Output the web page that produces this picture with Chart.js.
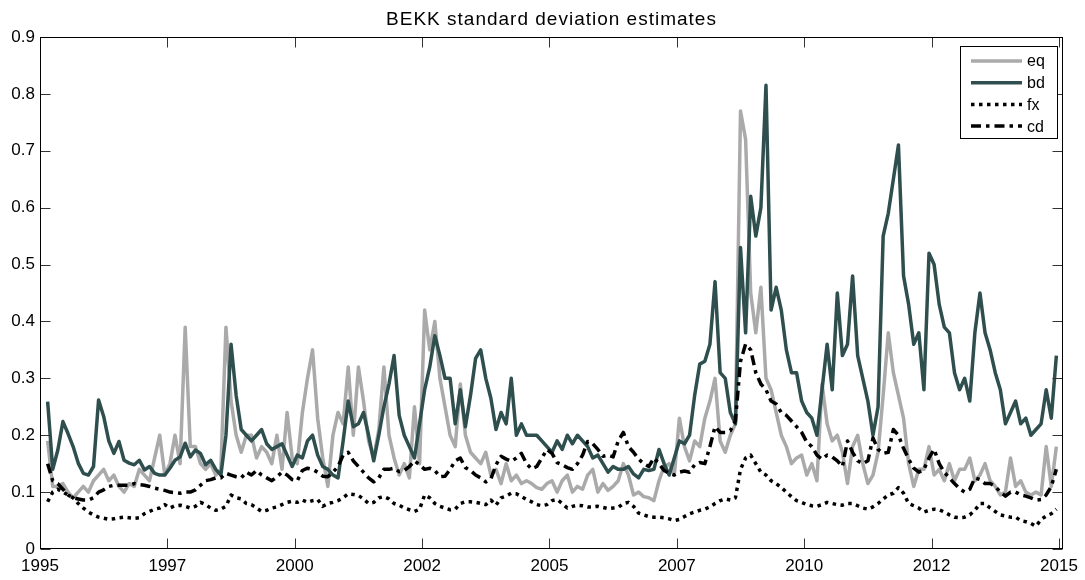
<!DOCTYPE html>
<html>
<head>
<meta charset="utf-8">
<title>BEKK standard deviation estimates</title>
<script src="https://cdn.jsdelivr.net/npm/chart.js@4.4.1/dist/chart.umd.min.js"></script>
<style>
  html, body { margin: 0; padding: 0; background: #fff; }
  canvas { display: block; }
</style>
</head>
<body>
<canvas id="chart" width="1085" height="580"></canvas>
<script>
const titleText = "BEKK standard deviation estimates";

// x ticks sit every 2.5 years, labelled with the year only
const xTickValues = [1995, 1997.5, 2000, 2002.5, 2005, 2007.5, 2010, 2012.5, 2015];
const xTickLabels = ["1995", "1997", "2000", "2002", "2005", "2007", "2010", "2012", "2015"];
const yTickValues = [0, 0.1, 0.2, 0.3, 0.4, 0.5, 0.6, 0.7, 0.8, 0.9];

// one sample every 0.1 year, first at 1995.15 (one row per year)
const eqValues = [
  0.19, 0.11, 0.11, 0.115, 0.1, 0.09, 0.1, 0.11, 0.1, 0.12,
  0.13, 0.14, 0.12, 0.13, 0.11, 0.1, 0.115, 0.11, 0.14, 0.13,
  0.12, 0.16, 0.2, 0.13, 0.15, 0.2, 0.15, 0.39, 0.18, 0.18,
  0.15, 0.14, 0.15, 0.13, 0.14, 0.39, 0.26, 0.2, 0.17, 0.2,
  0.2, 0.16, 0.18, 0.17, 0.15, 0.2, 0.14, 0.24, 0.16, 0.15,
  0.24, 0.3, 0.35, 0.23, 0.16, 0.11, 0.2, 0.24, 0.22, 0.32,
  0.2, 0.32, 0.26, 0.19, 0.16, 0.21, 0.32, 0.2, 0.16, 0.13,
  0.15, 0.125, 0.25, 0.15, 0.42, 0.35, 0.4, 0.3, 0.25, 0.2,
  0.18, 0.29, 0.2, 0.17, 0.16, 0.15, 0.17, 0.13, 0.14, 0.115,
  0.15, 0.12, 0.13, 0.115, 0.12, 0.115, 0.108, 0.105, 0.115, 0.12,
  0.1, 0.12, 0.13, 0.1, 0.11, 0.105, 0.13, 0.14, 0.1, 0.115,
  0.103, 0.11, 0.12, 0.15, 0.13, 0.095, 0.1, 0.092, 0.09, 0.085,
  0.12, 0.145, 0.15, 0.13, 0.23, 0.18, 0.155, 0.19, 0.18, 0.23,
  0.26, 0.3, 0.19, 0.17, 0.2, 0.22, 0.77, 0.72, 0.45, 0.38,
  0.46, 0.3, 0.28, 0.24, 0.2, 0.18, 0.15, 0.16, 0.165, 0.13,
  0.15, 0.12, 0.29, 0.22, 0.19, 0.2, 0.17, 0.115, 0.18, 0.2,
  0.15, 0.115, 0.13, 0.17, 0.27, 0.38, 0.31, 0.27, 0.23, 0.15,
  0.11, 0.14, 0.14, 0.18, 0.13, 0.14, 0.12, 0.15, 0.12, 0.14,
  0.14, 0.16, 0.12, 0.13, 0.15, 0.12, 0.11, 0.095, 0.1, 0.16,
  0.11, 0.12, 0.1, 0.095, 0.1, 0.095, 0.18, 0.11, 0.18,
];

const bdValues = [
  0.259, 0.14, 0.174, 0.224, 0.203, 0.18, 0.151, 0.133, 0.13, 0.145,
  0.262, 0.233, 0.19, 0.168, 0.189, 0.156, 0.151, 0.148, 0.156, 0.139,
  0.145, 0.133, 0.13, 0.13, 0.142, 0.156, 0.162, 0.186, 0.162, 0.174,
  0.168, 0.148, 0.156, 0.14, 0.13, 0.2, 0.36, 0.27, 0.21, 0.2,
  0.19, 0.2, 0.21, 0.185, 0.175, 0.18, 0.185, 0.165, 0.145, 0.165,
  0.16, 0.19, 0.2, 0.165, 0.145, 0.14, 0.13, 0.125, 0.19, 0.26,
  0.215, 0.22, 0.24, 0.2, 0.155, 0.2, 0.25, 0.29, 0.34, 0.235,
  0.2, 0.18, 0.16, 0.22, 0.28, 0.32, 0.375, 0.34, 0.3, 0.3,
  0.22, 0.28, 0.215, 0.27, 0.335, 0.35, 0.3, 0.265, 0.21, 0.24,
  0.22, 0.3, 0.2, 0.22, 0.2, 0.2, 0.2, 0.19, 0.18, 0.17,
  0.19, 0.175, 0.2, 0.185, 0.2, 0.19, 0.18, 0.16, 0.165, 0.15,
  0.135, 0.145, 0.14, 0.14, 0.145, 0.132, 0.125, 0.14, 0.138, 0.14,
  0.175, 0.15, 0.13, 0.16, 0.19, 0.185, 0.2, 0.27, 0.325, 0.33,
  0.36, 0.47, 0.31, 0.3, 0.24, 0.22, 0.53, 0.38, 0.62, 0.55,
  0.6, 0.815, 0.42, 0.46, 0.42, 0.35, 0.31, 0.31, 0.26, 0.24,
  0.23, 0.2, 0.28, 0.36, 0.28, 0.45, 0.34, 0.36, 0.48, 0.34,
  0.3, 0.26, 0.2, 0.25, 0.55, 0.59, 0.65, 0.71, 0.48, 0.43,
  0.36, 0.38, 0.28, 0.52, 0.5, 0.43, 0.39, 0.38, 0.31, 0.28,
  0.3, 0.26, 0.38, 0.45, 0.38, 0.35, 0.31, 0.28, 0.22, 0.24,
  0.26, 0.22, 0.23, 0.2, 0.21, 0.22, 0.28, 0.23, 0.34,
];

const fxValues = [
  0.083, 0.1, 0.105, 0.1, 0.095, 0.09, 0.08, 0.072, 0.065, 0.06,
  0.056, 0.054, 0.052, 0.053, 0.055, 0.056, 0.055, 0.054, 0.055, 0.062,
  0.066, 0.07, 0.072, 0.078, 0.072, 0.076, 0.077, 0.075, 0.072, 0.075,
  0.082, 0.078, 0.072, 0.068, 0.07, 0.075, 0.095, 0.09, 0.088, 0.08,
  0.078, 0.072, 0.066, 0.068, 0.072, 0.074, 0.078, 0.082, 0.084, 0.082,
  0.086, 0.082, 0.085, 0.087, 0.075, 0.08, 0.082, 0.085, 0.09, 0.097,
  0.096, 0.094, 0.088, 0.08, 0.082, 0.09, 0.092, 0.088, 0.08, 0.077,
  0.072, 0.069, 0.066, 0.07, 0.095, 0.09, 0.08, 0.075, 0.072, 0.069,
  0.07, 0.08, 0.083, 0.083, 0.082, 0.08, 0.078, 0.086, 0.077, 0.09,
  0.093, 0.098, 0.097, 0.092, 0.087, 0.083, 0.078, 0.076, 0.078, 0.085,
  0.087, 0.08, 0.072, 0.075, 0.077, 0.076, 0.074, 0.074, 0.075, 0.073,
  0.071, 0.072, 0.073, 0.08, 0.082, 0.075, 0.063, 0.06, 0.057, 0.056,
  0.056, 0.055, 0.053, 0.05, 0.052, 0.057, 0.062, 0.065, 0.068, 0.07,
  0.074, 0.08, 0.085, 0.088, 0.086, 0.09, 0.14, 0.16, 0.165, 0.15,
  0.135, 0.13, 0.12, 0.115, 0.108, 0.1, 0.092, 0.085, 0.082, 0.078,
  0.076, 0.075, 0.078, 0.082, 0.08, 0.078, 0.077, 0.08, 0.08, 0.076,
  0.072, 0.07, 0.074, 0.08, 0.088, 0.095, 0.098, 0.108, 0.098, 0.08,
  0.076, 0.072, 0.065, 0.068, 0.07, 0.069, 0.065, 0.06, 0.056, 0.055,
  0.056, 0.06, 0.068, 0.08, 0.08, 0.072, 0.066, 0.06, 0.058, 0.056,
  0.056, 0.05, 0.048, 0.045, 0.04, 0.052, 0.058, 0.062, 0.07,
];

const cdValues = [
  0.15, 0.12, 0.115, 0.105, 0.095, 0.09, 0.088, 0.086, 0.086, 0.09,
  0.1, 0.104, 0.11, 0.112, 0.112, 0.112, 0.112, 0.115, 0.113, 0.112,
  0.11, 0.107, 0.105, 0.103, 0.1, 0.099, 0.098, 0.1, 0.1, 0.104,
  0.112, 0.12, 0.122, 0.125, 0.125, 0.133, 0.13, 0.127, 0.125, 0.135,
  0.13, 0.138, 0.13, 0.125, 0.12, 0.127, 0.135, 0.13, 0.122, 0.12,
  0.138, 0.142, 0.14, 0.135, 0.128, 0.127, 0.135, 0.145, 0.165, 0.17,
  0.155, 0.145, 0.135, 0.125, 0.118, 0.125, 0.14, 0.14, 0.142, 0.136,
  0.138, 0.145, 0.155, 0.148, 0.14, 0.142, 0.138, 0.127, 0.128, 0.14,
  0.155, 0.16, 0.143, 0.138, 0.13, 0.125, 0.118, 0.123, 0.148, 0.163,
  0.158, 0.154, 0.16, 0.168, 0.15, 0.141, 0.145, 0.16, 0.175, 0.168,
  0.152, 0.148, 0.143, 0.14, 0.15, 0.165, 0.189, 0.185, 0.175, 0.163,
  0.165, 0.162, 0.19, 0.205, 0.18, 0.17, 0.158, 0.15, 0.145, 0.16,
  0.15, 0.138, 0.133, 0.13, 0.135, 0.137, 0.135, 0.148, 0.152, 0.15,
  0.18, 0.215, 0.205, 0.205, 0.208, 0.225, 0.33, 0.36, 0.35, 0.31,
  0.29, 0.28, 0.26, 0.255, 0.24, 0.235, 0.225, 0.215, 0.205, 0.188,
  0.18, 0.165, 0.158, 0.165, 0.162, 0.155, 0.145, 0.19, 0.17, 0.155,
  0.15, 0.155, 0.195, 0.175, 0.168, 0.17, 0.21, 0.2, 0.177, 0.158,
  0.142, 0.135, 0.14, 0.16, 0.175, 0.15, 0.135, 0.125, 0.115, 0.106,
  0.1, 0.105, 0.125, 0.122, 0.115, 0.115, 0.11, 0.1, 0.093, 0.1,
  0.1, 0.095, 0.093, 0.09, 0.086, 0.087, 0.095, 0.11, 0.14,
];

const years = eqValues.map((_, i) => +(1995.15 + i * 0.1).toFixed(2));
const points = (values) => values.map((v, i) => ({ x: years[i], y: v }));

const FONT = '"Liberation Sans", Arial, Helvetica, sans-serif';

const series = [
  { label: "eq", data: points(eqValues), borderColor: "#aaaaaa", borderWidth: 3.5, order: 4 },
  { label: "bd", data: points(bdValues), borderColor: "#2f4f4f", borderWidth: 3.5, order: 3 },
  { label: "fx", data: points(fxValues), borderColor: "#000000", borderWidth: 3.5, borderDash: [3.5, 4.5], order: 2 },
  { label: "cd", data: points(cdValues), borderColor: "#000000", borderWidth: 3.5, borderDash: [10, 5, 3.5, 5], order: 1 },
];

// title, boxed axes with inward ticks, and the legend box
const framePlugin = {
  id: "frame",
  afterDraw(chart) {
    const { ctx, chartArea: a, scales } = chart;
    ctx.save();

    ctx.fillStyle = "#000";
    ctx.font = `19px ${FONT}`;
    ctx.letterSpacing = "1px";
    ctx.textAlign = "center";
    ctx.textBaseline = "alphabetic";
    ctx.fillText(titleText, (a.left + a.right) / 2, 25);
    ctx.letterSpacing = "0px";

    const left = Math.floor(a.left) + 0.5;
    const right = Math.floor(a.right) - 0.5;
    const top = Math.floor(a.top) + 0.5;
    const bottom = Math.floor(a.bottom) - 0.5;

    ctx.strokeStyle = "#333";
    ctx.lineWidth = 1;
    ctx.setLineDash([]);
    ctx.beginPath();
    xTickValues.forEach((v) => {
      const x = Math.round(scales.x.getPixelForValue(v)) + 0.5;
      ctx.moveTo(x, bottom);
      ctx.lineTo(x, bottom - 10);
      ctx.moveTo(x, top);
      ctx.lineTo(x, top + 10);
    });
    yTickValues.forEach((v) => {
      const y = Math.round(scales.y.getPixelForValue(v)) + 0.5;
      ctx.moveTo(left, y);
      ctx.lineTo(left + 10, y);
      ctx.moveTo(right, y);
      ctx.lineTo(right - 10, y);
    });
    ctx.stroke();

    ctx.strokeStyle = "#000";
    ctx.strokeRect(left, top, right - left, bottom - top);

    // legend
    const lx = 960.5, ly = 46.5, lw = 97, lh = 92;
    ctx.fillStyle = "#fff";
    ctx.fillRect(lx, ly, lw, lh);
    ctx.strokeStyle = "#000";
    ctx.strokeRect(lx, ly, lw, lh);
    ctx.font = `16px ${FONT}`;
    ctx.textAlign = "left";
    ctx.textBaseline = "middle";
    series.forEach((s, i) => {
      const y = 61 + i * 21.7;
      ctx.strokeStyle = s.borderColor;
      ctx.lineWidth = s.borderWidth;
      ctx.setLineDash(s.borderDash || []);
      ctx.beginPath();
      ctx.moveTo(971, y);
      ctx.lineTo(1022, y);
      ctx.stroke();
      ctx.fillStyle = "#000";
      ctx.fillText(s.label, 1027, y + 1);
    });

    ctx.restore();
  },
};

new Chart(document.getElementById("chart"), {
  type: "line",
  data: {
    datasets: series.map((s) => ({
      ...s,
      fill: false,
      tension: 0,
      pointRadius: 0,
      borderJoinStyle: "round",
      borderCapStyle: "butt",
    })),
  },
  options: {
    responsive: false,
    animation: false,
    devicePixelRatio: 1,
    layout: { padding: { top: 37, right: 22, left: 0, bottom: 0 } },
    plugins: {
      legend: { display: false },
      title: { display: false },
      tooltip: { enabled: false },
    },
    scales: {
      x: {
        type: "linear",
        min: 1995,
        max: 2015.08,
        grid: { display: false, drawTicks: false },
        border: { display: false },
        afterBuildTicks(scale) {
          scale.ticks = xTickValues.map((v) => ({ value: v }));
        },
        afterFit(scale) {
          scale.height = 31;
        },
        ticks: {
          autoSkip: false,
          maxRotation: 0,
          padding: 7,
          color: "#000",
          font: { family: FONT, size: 17 },
          callback(value) {
            const i = xTickValues.indexOf(value);
            return i >= 0 ? xTickLabels[i] : "";
          },
        },
      },
      y: {
        min: 0,
        max: 0.9,
        grid: { display: false, drawTicks: false },
        border: { display: false },
        afterBuildTicks(scale) {
          scale.ticks = yTickValues.map((v) => ({ value: v }));
        },
        afterFit(scale) {
          scale.width = 40;
        },
        ticks: {
          padding: 5,
          color: "#000",
          font: { family: FONT, size: 17 },
          callback(value) {
            return String(Math.round(value * 10) / 10);
          },
        },
      },
    },
  },
  plugins: [framePlugin],
});
</script>
</body>
</html>
